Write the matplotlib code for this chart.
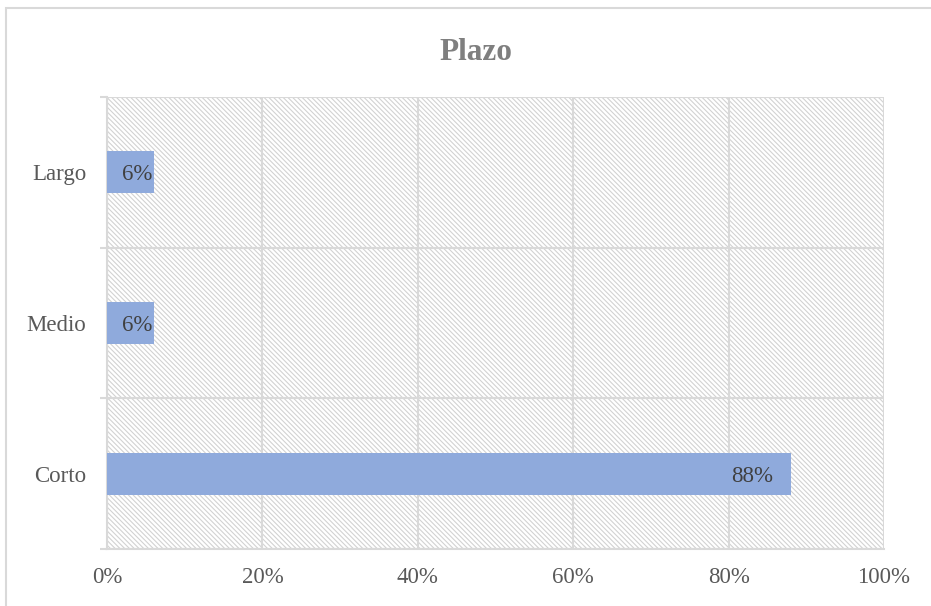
import matplotlib.pyplot as plt
from matplotlib.patches import Rectangle
from matplotlib.ticker import FixedLocator, PercentFormatter

categorias = ["Corto", "Medio", "Largo"]
valores = [88, 6, 6]
etiquetas = ["88%", "6%", "6%"]
ticks_x = [0, 20, 40, 60, 80, 100]

plt.rcParams["font.family"] = ["Liberation Serif", "DejaVu Serif"]
plt.rcParams["hatch.linewidth"] = 0.8

W, H = 931, 606
fig = plt.figure(figsize=(W / 100, H / 100), dpi=100)
ax = fig.add_axes([107 / W, 1 - 549 / H, (884 - 107) / W, (549 - 97) / H])

gris = "#d9d9d9"

# borde del grafico (recortado a derecha y abajo)
fig.patches.append(Rectangle((6 / W, -0.05), 1.2, 1 - 8 / H + 0.05,
                             transform=fig.transFigure, fill=False,
                             edgecolor=gris, linewidth=1.5))

# fondo rayado del area de trazado
ax.add_patch(Rectangle((0, 0), 1, 1, transform=ax.transAxes, facecolor="white",
                       edgecolor="#d2d2d2", hatch="\\" * 7, linewidth=0, zorder=0))

pos = range(len(categorias))
barras = ax.barh(pos, valores, height=0.28, color="#8faadc", zorder=3)
for b, txt in zip(barras, etiquetas):
    # barras cortas: etiqueta pegada al final de la barra
    margen = 2.3 if b.get_width() > 20 else 0.2
    ax.text(b.get_width() - margen, b.get_y() + b.get_height() / 2, txt,
            ha="right", va="center_baseline", fontsize=16.5, color="#404040",
            zorder=4)

ax.set_xlim(0, 100)
ax.set_ylim(-0.5, 2.5)
ax.set_xticks(ticks_x)
ax.xaxis.set_major_formatter(PercentFormatter(decimals=0))
ax.tick_params(axis="x", length=0, pad=13, labelsize=16.5, colors="#595959")

ax.yaxis.set_major_locator(FixedLocator([-0.5, 0.5, 1.5, 2.5]))
ax.yaxis.set_minor_locator(FixedLocator(list(pos)))
ax.set_yticklabels([], minor=False)
ax.set_yticklabels(categorias, minor=True)
ax.tick_params(axis="y", which="major", length=5, width=1.5, color=gris)
ax.tick_params(axis="y", which="minor", length=0, pad=15, labelsize=16.5,
               labelcolor="#595959")

ax.grid(True, which="major", color=gris, linewidth=1.5, zorder=1)
ax.set_axisbelow(True)
for lado in ["top", "right"]:
    ax.spines[lado].set_visible(False)
for lado in ["left", "bottom"]:
    ax.spines[lado].set_color(gris)
    ax.spines[lado].set_linewidth(1.5)

fig.text(476 / W, 1 - 52 / H, "Plazo", ha="center", va="center",
         fontsize=22.5, fontweight="bold", color="#7f7f7f")

fig.savefig("out.png", dpi=100)
